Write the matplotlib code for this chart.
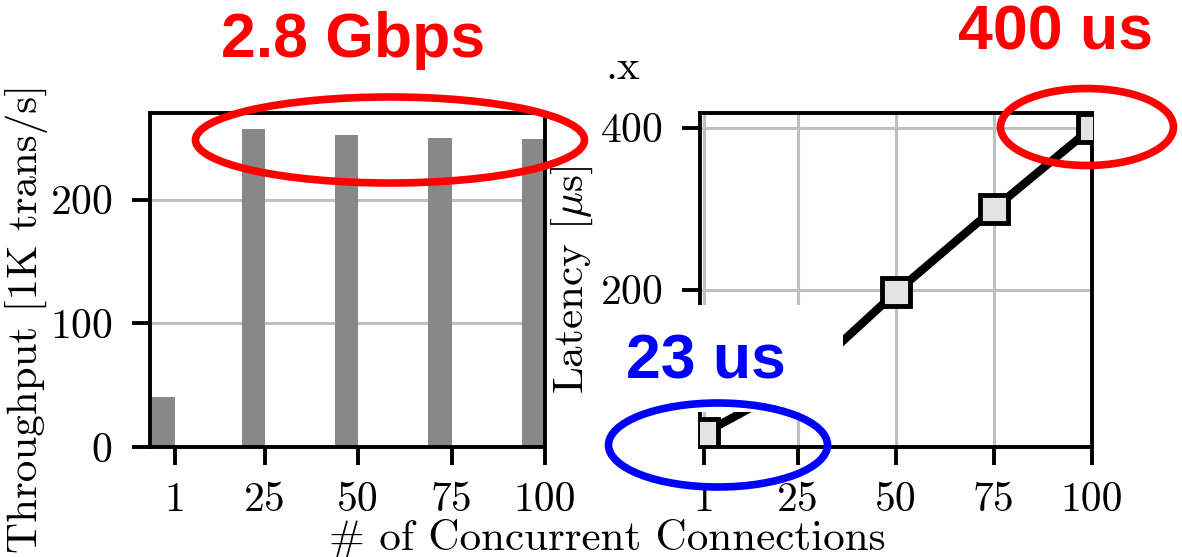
import matplotlib
matplotlib.use("Agg")
import matplotlib.pyplot as plt
from matplotlib.patches import Ellipse, Rectangle

# data
connections = [1, 25, 50, 75, 100]
throughput_k = [40.5, 257, 252.5, 250, 249]      # 1K trans/s
latency_us = [23, 86, 197, 300, 400]             # microseconds
tick_labels = ["1", "25", "50", "75", "100"]

plt.rcParams["font.family"] = "cmr10"
plt.rcParams["mathtext.fontset"] = "cm"
plt.rcParams["axes.unicode_minus"] = False
plt.rcParams["axes.formatter.use_mathtext"] = True

W, H = 1182, 557
TICK_FS = 30
LABEL_FS = 31
fig = plt.figure(figsize=(W / 100, H / 100), dpi=100)


def fbox(x0, y0, x1, y1):
    # pixel box (top-left origin) -> figure fraction rect
    return [x0 / W, 1 - y1 / H, (x1 - x0) / W, (y1 - y0) / H]


def style_axes(ax):
    for sp in ax.spines.values():
        sp.set_linewidth(2.8)
    ax.tick_params(axis="both", direction="out", length=13, width=2.8,
                   labelsize=TICK_FS)
    ax.tick_params(axis="y", pad=14)
    ax.tick_params(axis="x", pad=12)
    ax.set_axisbelow(True)


GRID = dict(color="#bfbfbf", linewidth=2.2)

# ── left: throughput bars ──
ax1 = fig.add_axes(fbox(150, 113, 545, 447))
style_axes(ax1)
ax1.bar(connections, throughput_k, width=-6.2, align="edge",
        color="#888888", zorder=2)
ax1.set_xlim(-5.7, 100)
ax1.set_ylim(0, 270)
ax1.set_yticks([0, 100, 200])
ax1.set_xticks(connections)
ax1.set_xticklabels(tick_labels)
ax1.yaxis.grid(True, **GRID)
ax1.set_ylabel("Throughput [1K trans/s]", fontsize=LABEL_FS)
ax1.yaxis.set_label_coords(-0.258, 0.385)

# ── right: latency line ──
ax2 = fig.add_axes(fbox(700, 113, 1092, 447))
style_axes(ax2)
ax2.plot(connections, latency_us, color="black", linewidth=6,
         marker="s", markersize=20, markerfacecolor="#e3e3e3",
         markeredgecolor="black", markeredgewidth=3.5, zorder=3)
ax2.set_xlim(0, 100)
ax2.set_ylim(6, 418)
ax2.set_yticks([200, 400])
ax2.set_xticks(connections)
ax2.set_xticklabels(tick_labels)
ax2.grid(True, **GRID)
ax2.set_ylabel(r"Latency [$\mu$s]", fontsize=LABEL_FS)
ax2.yaxis.set_label_coords(-0.268, 0.5)

fig.text(607 / W, 1 - 538 / H, "# of Concurrent Connections",
         fontsize=LABEL_FS, ha="center", va="center")
fig.text(623 / W, 1 - 68 / H, ".x", fontsize=LABEL_FS, ha="center", va="center")

# white box hiding the lower part of the latency plot behind the label
fig.patches.append(Rectangle((598 / W, 1 - 412 / H), 245 / W, 107 / H,
                             transform=fig.transFigure, facecolor="white",
                             edgecolor="none", zorder=2))

# highlight ellipses and callouts
for (cx, cy, ew, eh, col) in [(390, 140, 389, 86, "red"),
                              (1087, 127, 173, 77, "red"),
                              (718, 445, 219, 84, "blue")]:
    fig.patches.append(Ellipse((cx / W, 1 - cy / H), ew / W, eh / H,
                               transform=fig.transFigure, fill=False,
                               edgecolor=col, linewidth=5.5, zorder=4))

callout = dict(fontsize=45, fontweight="bold", family="Liberation Sans",
               ha="center", va="center", zorder=5)
fig.text(353 / W, 1 - 40 / H, "2.8 Gbps", color="red", **callout)
fig.text(1056 / W, 1 - 33 / H, "400 us", color="red", **callout)
fig.text(706 / W, 1 - 362 / H, "23 us", color="blue", **callout)

fig.savefig("out.png", dpi=100)
